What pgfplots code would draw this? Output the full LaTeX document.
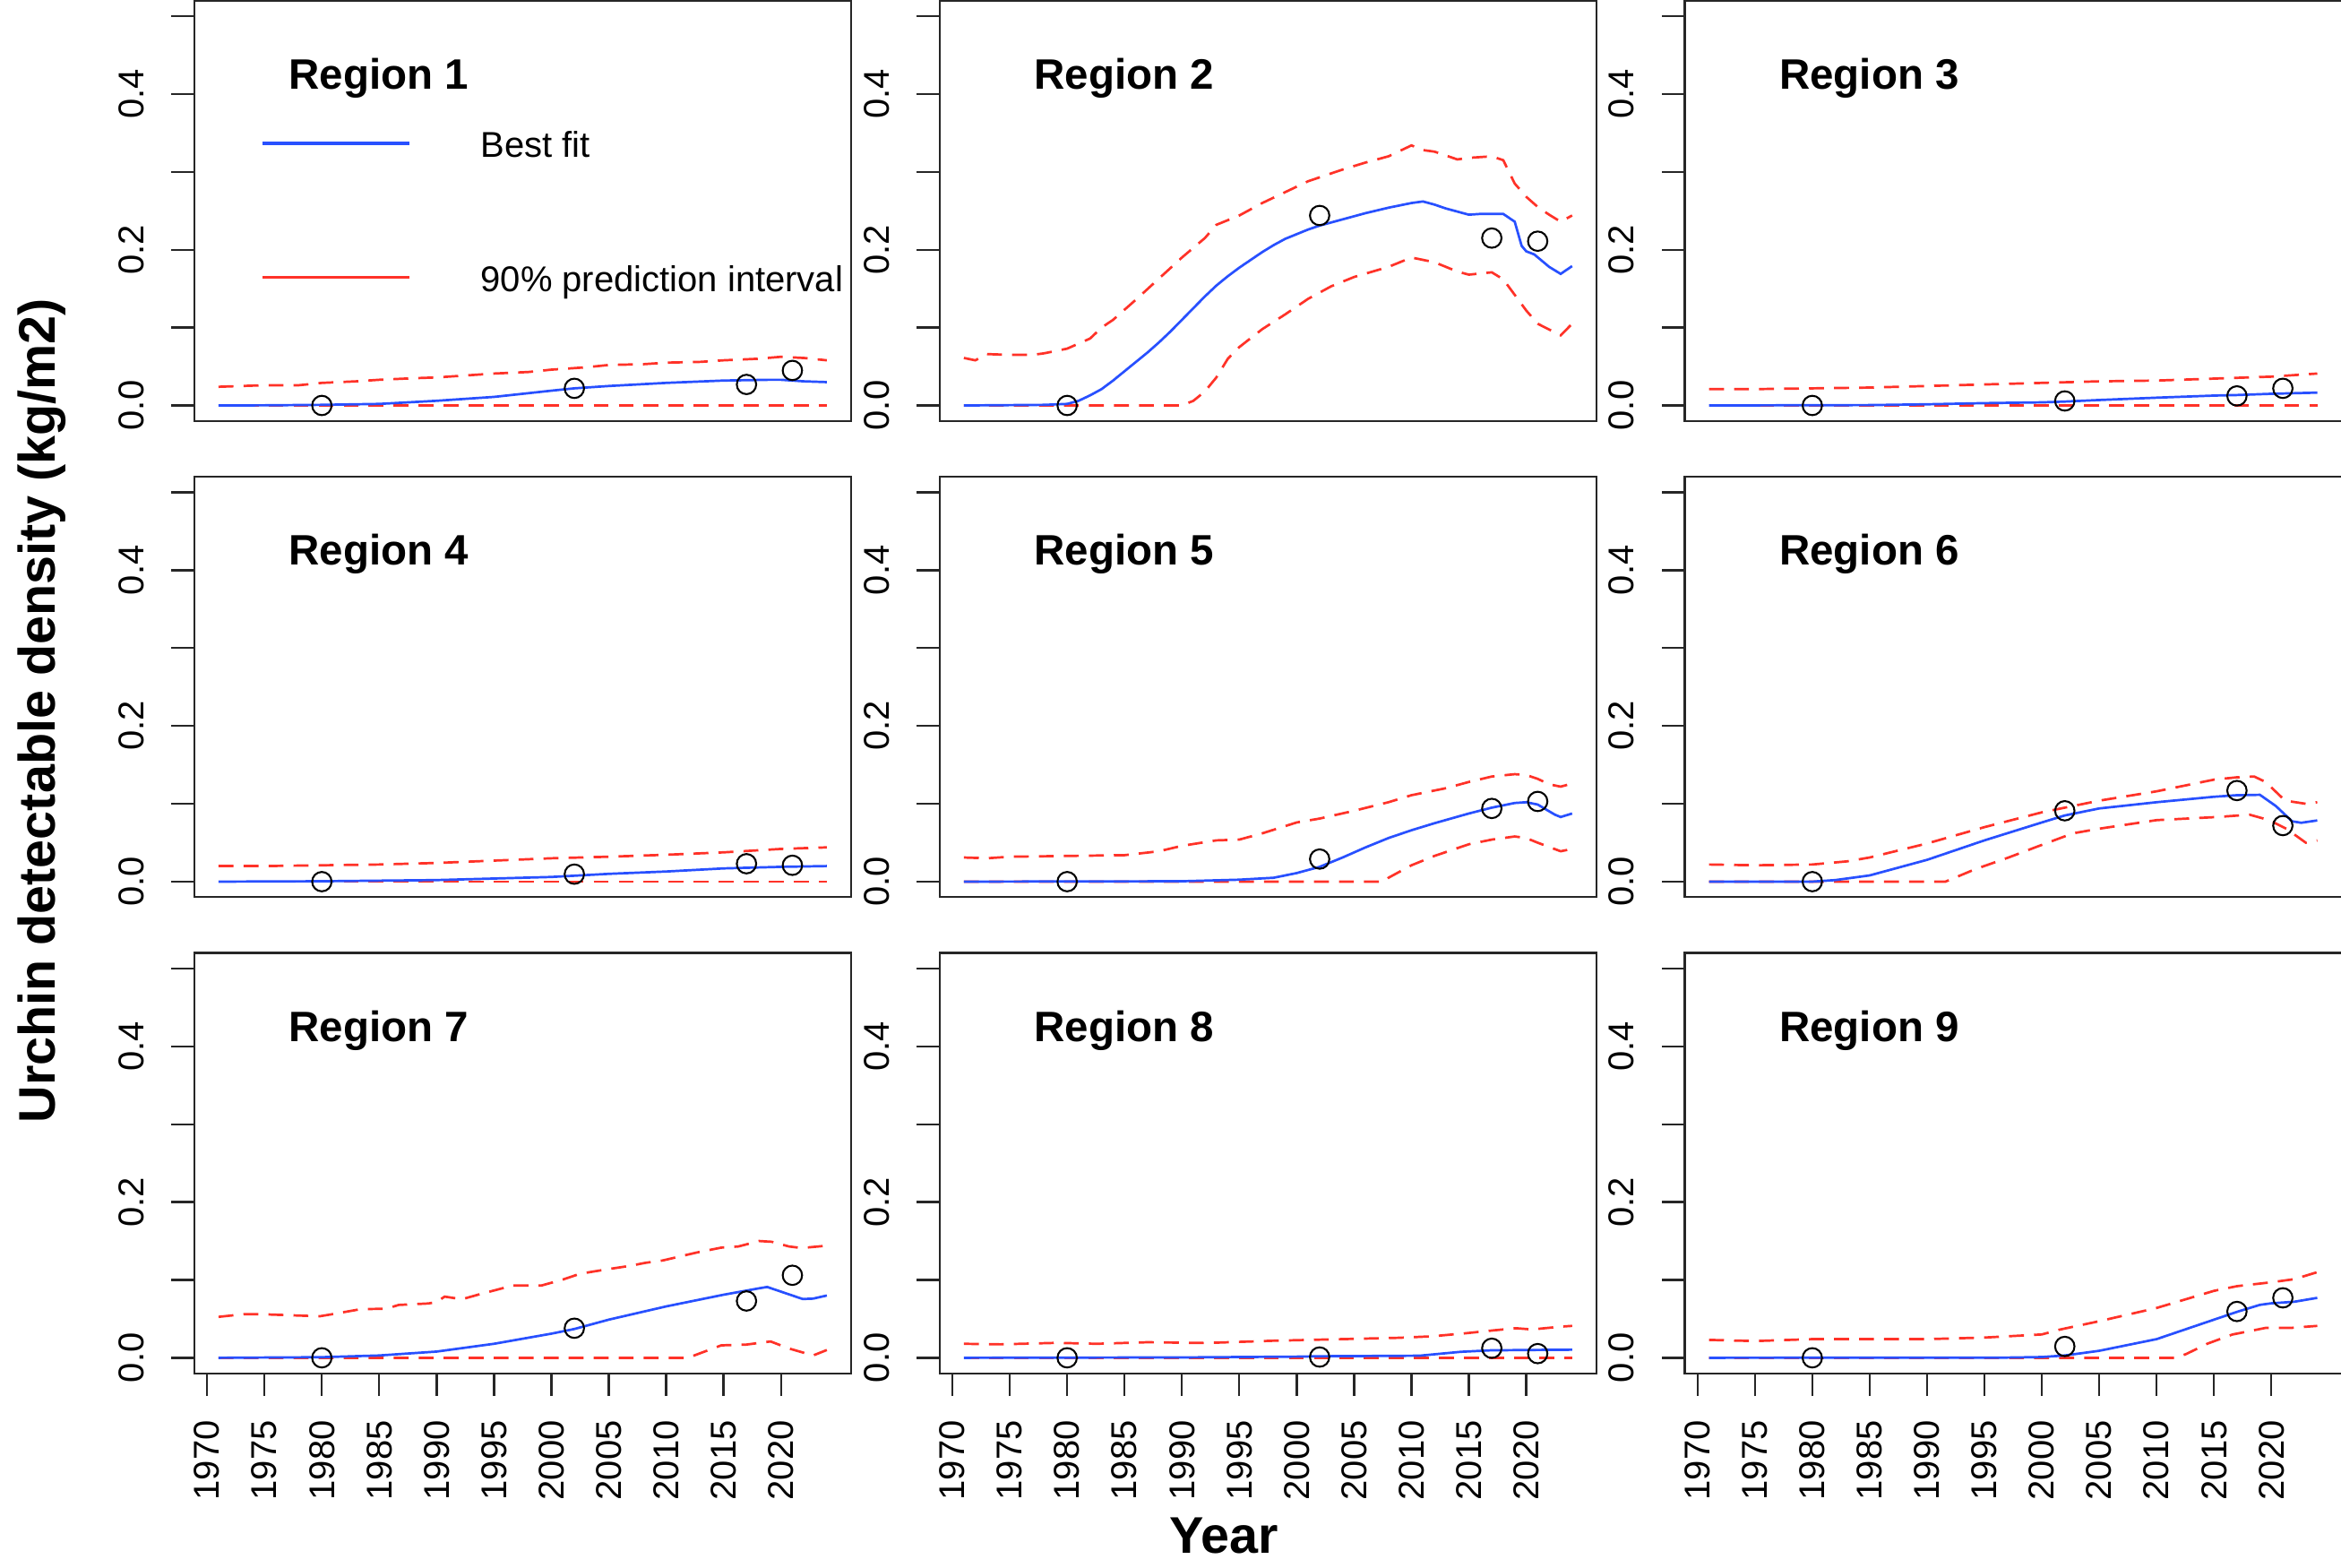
\documentclass[border=0pt]{standalone}
\usepackage{fontspec}
\setmainfont{Liberation Sans}
\usepackage{pgfplots}
\pgfplotsset{compat=1.18}
\definecolor{fitblue}{RGB}{40,80,255}
\definecolor{pired}{RGB}{255,50,40}
\pgfplotsset{
 panel/.style={
  scale only axis, width=176pt, height=112.64pt,
  xmin=1968.88, xmax=2026.12, ymin=-0.02, ymax=0.52,
  axis line style={line width=0.55pt, black!85},
  tick pos=left, tick align=outside,
  major tick length=6.1pt, minor tick length=6.1pt,
  ytick={0,0.2,0.4}, minor ytick={0.1,0.3,0.5},
  yticklabels={0.0,0.2,0.4},
  tick style={line width=0.55pt, black!85},
  yticklabel style={rotate=90, anchor=base, inner sep=0pt, font=\fontsize{9.6}{11}\selectfont},
  yticklabel shift=7.5pt,
  xtick=\empty,
 },
 bottomrow/.style={
  xtick={1970,1975,1980,1985,1990,1995,2000,2005,2010,2015,2020},
  xticklabels={1970,1975,1980,1985,1990,1995,2000,2005,2010,2015,2020},
  xticklabel style={rotate=90, anchor=east, inner sep=0pt, font=\fontsize{9.6}{11}\selectfont},
  xticklabel shift=6.3pt,
 },
 fit/.style={fitblue, line width=0.65pt, mark=none},
 band/.style={pired, line width=0.65pt, mark=none, dash pattern=on 4pt off 2.7pt},
 obs/.style={only marks, mark=o, mark size=2.6pt, mark options={black, line width=0.5pt, solid}},
}
\tikzset{reglab/.style={anchor=base west, inner sep=0pt, font=\bfseries\fontsize{11.4}{13}\selectfont}}
\begin{document}
\begin{tikzpicture}
\path[use as bounding box] (0,0) rectangle (627.2pt,420pt);

% ---------------- Region 1
\begin{axis}[panel, at={(52.04pt,307.2pt)}, anchor=south west]
\addplot[band] coordinates {(1971,0.024) (1973,0.025) (1975,0.026) (1978,0.026) (1980,0.029) (1983,0.031) (1985,0.033) (1988,0.035) (1990,0.036) (1993,0.039) (1995,0.041) (1998,0.043) (2000,0.046) (2003,0.049) (2005,0.052) (2008,0.053) (2010,0.055) (2013,0.056) (2015,0.058) (2018,0.060) (2020,0.0625) (2022,0.061) (2024,0.058)};
\addplot[band] coordinates {(1971,0) (2024,0)};
\addplot[fit] coordinates {(1971,0) (1975,0.0002) (1980,0.0008) (1985,0.002) (1990,0.006) (1995,0.011) (2000,0.019) (2002,0.022) (2005,0.025) (2010,0.029) (2015,0.032) (2019,0.033) (2020,0.033) (2022,0.031) (2024,0.030)};
\addplot[obs] coordinates {(1980,0) (2002,0.022) (2017,0.027) (2021,0.045)};
\node[reglab] at (rel axis cs:0.143,0.79) {Region 1};
\draw[fitblue, line width=0.85pt] (rel axis cs:0.1045,0.660) -- (rel axis cs:0.327,0.660);
\draw[pired, line width=0.85pt] (rel axis cs:0.1045,0.342) -- (rel axis cs:0.327,0.342);
\node[anchor=base west, inner sep=0pt, font=\fontsize{9.6}{11}\selectfont] at (rel axis cs:0.435,0.628) {Best fit};
\node[anchor=base west, inner sep=0pt, font=\fontsize{9.6}{11}\selectfont] at (rel axis cs:0.435,0.3086) {90\% prediction interval};
\end{axis}

% ---------------- Region 2
\begin{axis}[panel, at={(251.72pt,307.2pt)}, anchor=south west]
\addplot[band] coordinates {(1971,0.061) (1972,0.058) (1973,0.066) (1975,0.065) (1977,0.065) (1978,0.067) (1980,0.073) (1982,0.086) (1983,0.100) (1984,0.110) (1986,0.136) (1988,0.163) (1990,0.190) (1992,0.215) (1993,0.232) (1995,0.244) (1997,0.260) (1999,0.274) (2001,0.288) (2003,0.298) (2004,0.303) (2006,0.312) (2008,0.320) (2010,0.334) (2011,0.328) (2012,0.326) (2014,0.316) (2015,0.318) (2017,0.320) (2018,0.315) (2019,0.285) (2020,0.268) (2021,0.255) (2022,0.245) (2023,0.236) (2024,0.244)};
\addplot[band] coordinates {(1971,0) (1990,0) (1991,0.006) (1992,0.018) (1993,0.036) (1994,0.060) (1995,0.075) (1997,0.098) (1999,0.117) (2001,0.137) (2003,0.153) (2005,0.165) (2008,0.178) (2010,0.190) (2012,0.184) (2014,0.172) (2015,0.168) (2017,0.171) (2018,0.162) (2019,0.142) (2020,0.122) (2021,0.105) (2023,0.090) (2024,0.105)};
\addplot[fit] coordinates {(1971,0) (1978,0.0008) (1980,0.002) (1981,0.006) (1982,0.013) (1983,0.021) (1984,0.032) (1985,0.044) (1986,0.056) (1987,0.068) (1988,0.081) (1989,0.095) (1990,0.110) (1991,0.125) (1992,0.140) (1993,0.154) (1994,0.166) (1995,0.177) (1996,0.187) (1997,0.197) (1998,0.206) (1999,0.214) (2000,0.220) (2001,0.226) (2002,0.231) (2003,0.235) (2004,0.239) (2006,0.247) (2008,0.254) (2010,0.260) (2011,0.262) (2012,0.258) (2013,0.253) (2015,0.245) (2016,0.246) (2018,0.246) (2019,0.236) (2019.6,0.205) (2020,0.198) (2020.7,0.194) (2022,0.178) (2023,0.169) (2024,0.179)};
\addplot[obs] coordinates {(1980,0) (2002,0.244) (2017,0.215) (2021,0.211)};
\node[reglab] at (rel axis cs:0.143,0.79) {Region 2};
\end{axis}

% ---------------- Region 3
\begin{axis}[panel, at={(451.36pt,307.2pt)}, anchor=south west]
\addplot[band] coordinates {(1971,0.021) (1975,0.021) (1980,0.022) (1985,0.023) (1990,0.025) (1995,0.027) (2000,0.029) (2005,0.031) (2010,0.032) (2015,0.0345) (2020,0.037) (2024,0.041)};
\addplot[band] coordinates {(1971,0) (2024,0)};
\addplot[fit] coordinates {(1971,0) (1985,0.0005) (1990,0.0015) (1995,0.003) (2000,0.004) (2002,0.005) (2005,0.007) (2010,0.010) (2015,0.0127) (2017,0.0134) (2020,0.015) (2024,0.0165)};
\addplot[obs] coordinates {(1980,0) (2002,0.0058) (2017,0.0123) (2021,0.022)};
\node[reglab] at (rel axis cs:0.143,0.79) {Region 3};
\end{axis}

% ---------------- Region 4
\begin{axis}[panel, at={(52.04pt,179.64pt)}, anchor=south west]
\addplot[band] coordinates {(1971,0.020) (1975,0.020) (1980,0.021) (1985,0.022) (1990,0.024) (1995,0.027) (2000,0.030) (2005,0.032) (2010,0.0345) (2015,0.0376) (2020,0.042) (2024,0.044)};
\addplot[band] coordinates {(1971,0) (2024,0)};
\addplot[fit] coordinates {(1971,0) (1980,0.0005) (1990,0.002) (2000,0.006) (2005,0.010) (2010,0.013) (2015,0.017) (2020,0.019) (2024,0.020)};
\addplot[obs] coordinates {(1980,0) (2002,0.0096) (2017,0.023) (2021,0.021)};
\node[reglab] at (rel axis cs:0.143,0.79) {Region 4};
\end{axis}

% ---------------- Region 5
\begin{axis}[panel, at={(251.72pt,179.64pt)}, anchor=south west]
\addplot[band] coordinates {(1971,0.031) (1973,0.030) (1975,0.032) (1980,0.033) (1985,0.034) (1988,0.039) (1990,0.046) (1993,0.053) (1995,0.054) (1997,0.062) (2000,0.076) (2002,0.081) (2005,0.091) (2008,0.102) (2010,0.111) (2013,0.120) (2015,0.128) (2017,0.135) (2019,0.138) (2020,0.137) (2021,0.132) (2022,0.125) (2023,0.122) (2024,0.126)};
\addplot[band] coordinates {(1971,0) (2007.6,0) (2008,0.005) (2010,0.021) (2012,0.033) (2015,0.048) (2017,0.054) (2019,0.058) (2020,0.056) (2021,0.050) (2023,0.039) (2024,0.042)};
\addplot[fit] coordinates {(1971,0) (1990,0.0005) (1995,0.0025) (1998,0.005) (2000,0.011) (2002,0.019) (2004,0.031) (2006,0.044) (2008,0.056) (2010,0.066) (2012,0.075) (2015,0.0875) (2017,0.095) (2019,0.101) (2020,0.102) (2021,0.099) (2022.5,0.086) (2023,0.083) (2024,0.0875)};
\addplot[obs] coordinates {(1980,0) (2002,0.029) (2017,0.094) (2021,0.103)};
\node[reglab] at (rel axis cs:0.143,0.79) {Region 5};
\end{axis}

% ---------------- Region 6
\begin{axis}[panel, at={(451.36pt,179.64pt)}, anchor=south west]
\addplot[band] coordinates {(1971,0.022) (1975,0.021) (1980,0.022) (1983,0.026) (1985,0.031) (1990,0.049) (1995,0.070) (2000,0.089) (2002,0.095) (2005,0.104) (2010,0.116) (2015,0.131) (2017,0.134) (2018.5,0.135) (2019.5,0.128) (2021.2,0.104) (2023,0.100) (2024,0.102)};
\addplot[band] coordinates {(1971,0) (1991.6,0) (1994.2,0.016) (1997.1,0.031) (1999.6,0.045) (2002.7,0.062) (2005,0.068) (2010,0.079) (2015.3,0.083) (2018.1,0.086) (2019.8,0.079) (2021.3,0.068) (2023,0.050) (2024,0.053)};
\addplot[fit] coordinates {(1971,0) (1980,0) (1982,0.002) (1985,0.008) (1990,0.028) (1995,0.053) (2000,0.076) (2002,0.085) (2005,0.094) (2010,0.102) (2015,0.109) (2017,0.111) (2019,0.1115) (2020.4,0.097) (2021.8,0.0775) (2022.6,0.0756) (2024,0.0786)};
\addplot[obs] coordinates {(1980,0) (2002,0.091) (2017,0.117) (2021,0.072)};
\node[reglab] at (rel axis cs:0.143,0.79) {Region 6};
\end{axis}

% ---------------- Region 7
\begin{axis}[panel, bottomrow, at={(52.04pt,52.08pt)}, anchor=south west]
\addplot[band] coordinates {(1971,0.0526) (1973.2,0.056) (1974.7,0.056) (1979.8,0.0533) (1980.9,0.056) (1983.4,0.0625) (1985.6,0.063) (1986.7,0.0679) (1989.3,0.0698) (1990,0.0717) (1990.7,0.0786) (1992.2,0.0752) (1993.6,0.081) (1996.6,0.0927) (1999.1,0.0927) (2001,0.1005) (2002.5,0.108) (2005,0.114) (2006.8,0.118) (2008.2,0.122) (2009.7,0.125) (2012.6,0.135) (2014.8,0.1415) (2016.3,0.143) (2018.1,0.150) (2019.2,0.149) (2020.7,0.143) (2021.8,0.141) (2024,0.144)};
\addplot[band] coordinates {(1971,0) (2011.9,0) (2014.8,0.016) (2017,0.017) (2019.1,0.021) (2020.7,0.012) (2022.8,0.003) (2024,0.010)};
\addplot[fit] coordinates {(1971,0) (1980,0.0008) (1985,0.003) (1990,0.008) (1995,0.018) (2000,0.031) (2002,0.037) (2005,0.049) (2010,0.066) (2015,0.081) (2018,0.089) (2018.8,0.091) (2020,0.085) (2021.9,0.0755) (2022.8,0.076) (2024,0.080)};
\addplot[obs] coordinates {(1980,0) (2002,0.038) (2017,0.073) (2021,0.106)};
\node[reglab] at (rel axis cs:0.143,0.79) {Region 7};
\end{axis}

% ---------------- Region 8
\begin{axis}[panel, bottomrow, at={(251.72pt,52.08pt)}, anchor=south west]
\addplot[band] coordinates {(1971,0.018) (1974.2,0.0173) (1979.1,0.0192) (1982.6,0.018) (1987,0.020) (1992.1,0.019) (1997.9,0.0219) (2003.4,0.0238) (2008.9,0.0257) (2011.8,0.0276) (2014.7,0.0315) (2017.2,0.0353) (2019.1,0.038) (2020.5,0.0364) (2023,0.040) (2024,0.041)};
\addplot[band] coordinates {(1971,0) (2024,0)};
\addplot[fit] coordinates {(1971,0) (1990,0.0005) (2000,0.0015) (2002,0.002) (2010.7,0.0027) (2014.3,0.0077) (2016.9,0.0096) (2020,0.010) (2024,0.0104)};
\addplot[obs] coordinates {(1980,0) (2002,0.001) (2017,0.0123) (2021,0.0054)};
\node[reglab] at (rel axis cs:0.143,0.79) {Region 8};
\end{axis}

% ---------------- Region 9
\begin{axis}[panel, bottomrow, at={(451.36pt,52.08pt)}, anchor=south west]
\addplot[band] coordinates {(1971,0.023) (1975,0.0215) (1980,0.024) (1985,0.024) (1990,0.024) (1995,0.026) (2000,0.030) (2001.5,0.036) (2002,0.0376) (2005,0.047) (2010,0.064) (2015,0.086) (2017,0.092) (2020,0.097) (2022,0.101) (2024,0.110)};
\addplot[band] coordinates {(1971,0) (2011.7,0) (2012.6,0.005) (2014.4,0.018) (2016.6,0.0299) (2019.5,0.0384) (2021.7,0.0384) (2024,0.041)};
\addplot[fit] coordinates {(1971,0) (1997,0.0003) (2000,0.001) (2002,0.003) (2005,0.009) (2010,0.024) (2015,0.049) (2017,0.059) (2019,0.068) (2020,0.070) (2022,0.072) (2024,0.077)};
\addplot[obs] coordinates {(1980,0) (2002,0.0146) (2017,0.0595) (2021,0.077)};
\node[reglab] at (rel axis cs:0.143,0.79) {Region 9};
\end{axis}

\node[rotate=90, anchor=base, inner sep=0pt, font=\bfseries\fontsize{13.8}{16}\selectfont] at (14.8pt,229.6pt) {Urchin detectable density (kg/m2)};
\node[anchor=base, inner sep=0pt, font=\bfseries\fontsize{13.8}{16}\selectfont] at (328pt,4pt) {Year};
\end{tikzpicture}
\end{document}
